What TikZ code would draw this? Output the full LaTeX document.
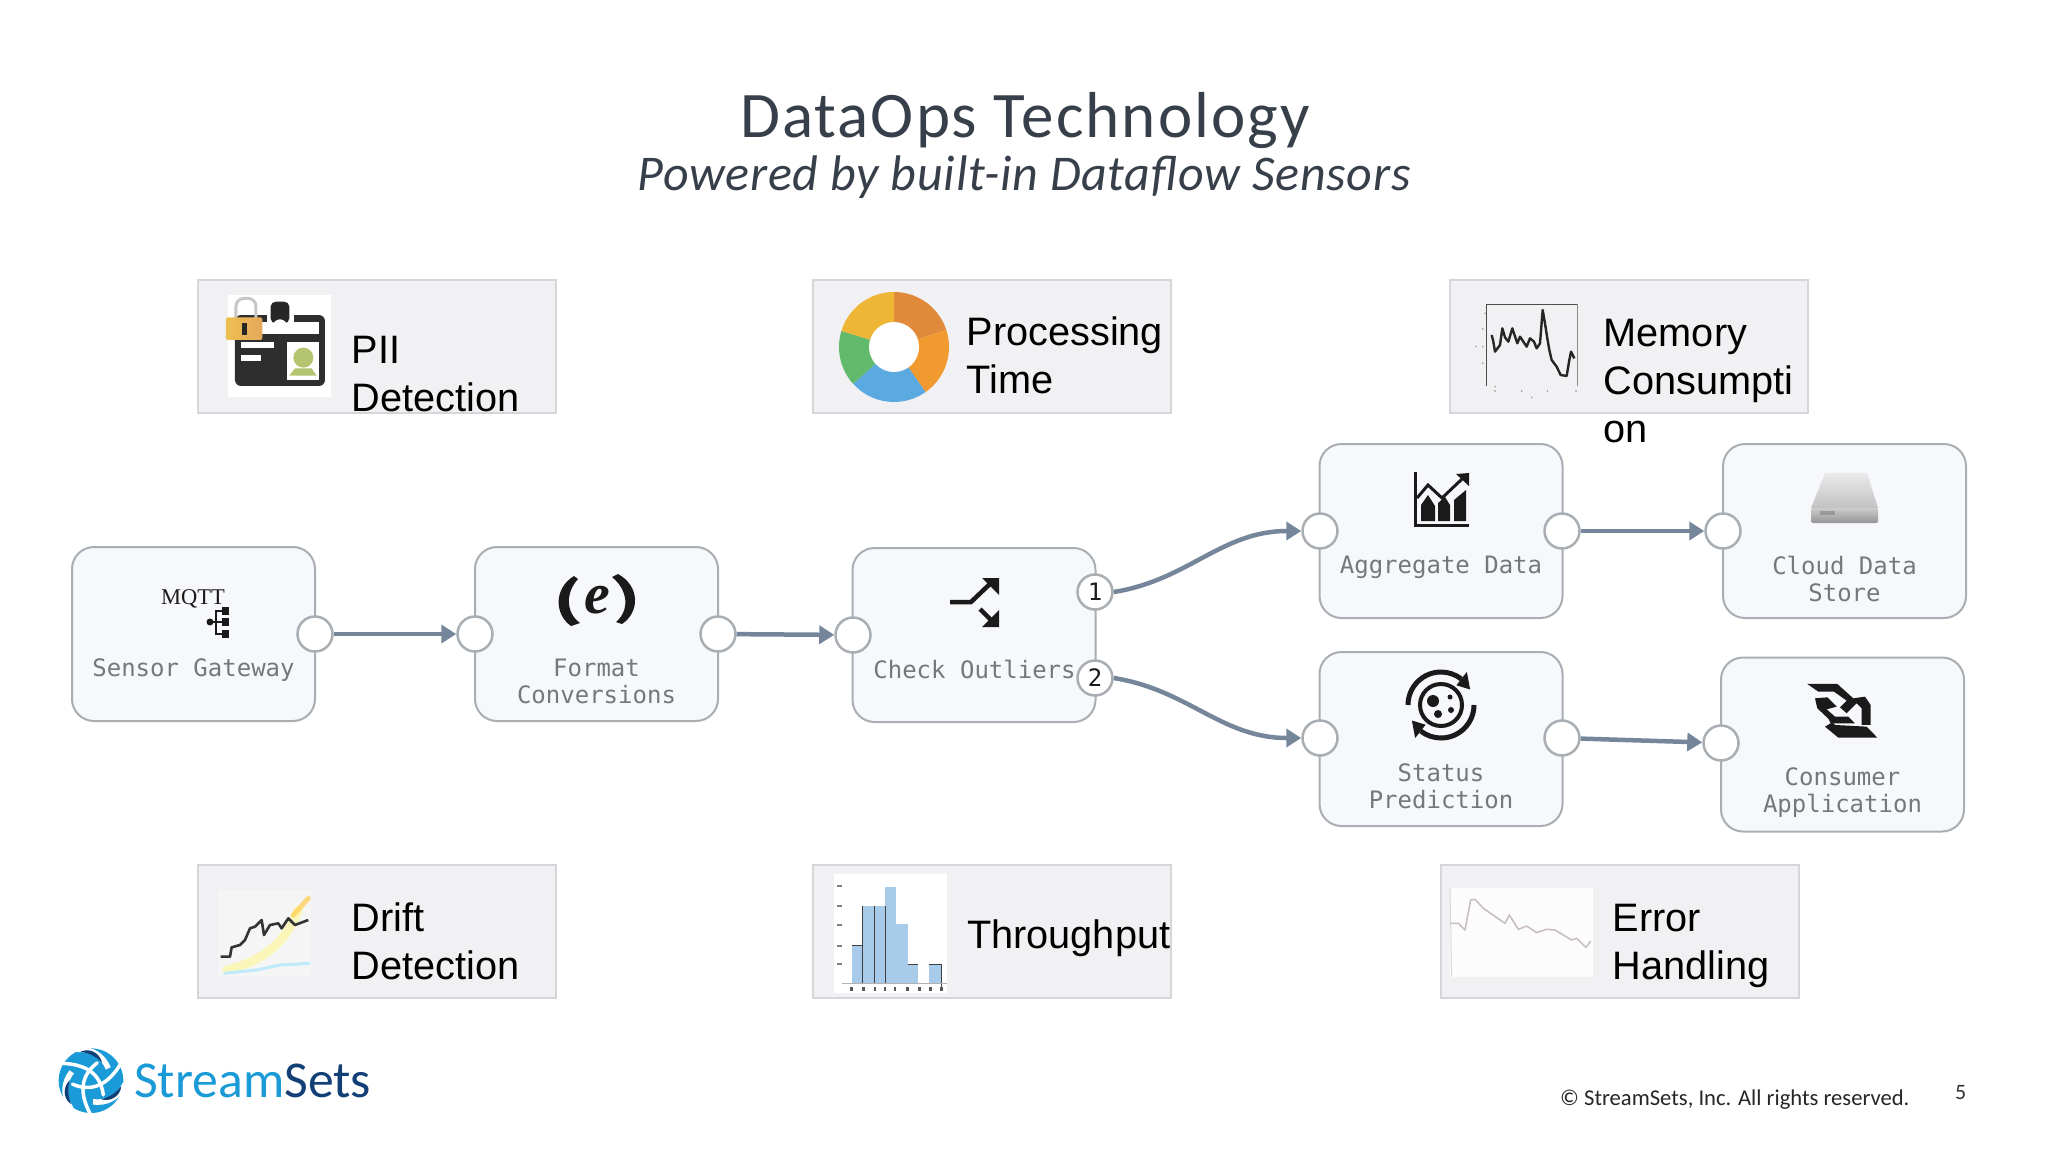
\documentclass[tikz,border=0pt]{standalone}
\usepackage{fontspec}
\setmainfont{Carlito}
\newfontfamily\titlef[LetterSpace=3.1]{Carlito}
\newfontfamily\subtitlef[LetterSpace=1.45,ItalicFont={Carlito Italic}]{Carlito}
\newfontfamily\arialf{Liberation Sans}
\newfontfamily\monof{DejaVu Sans Mono}
\newfontfamily\timesf{Liberation Serif}
\usetikzlibrary{arrows.meta,calc}
\definecolor{titlec}{HTML}{37404A}
\definecolor{cardfill}{HTML}{F1F1F4}
\definecolor{cardline}{HTML}{D5D6D9}
\definecolor{boxfill}{HTML}{F7F8FB}
\definecolor{boxline}{HTML}{A9AEB3}
\definecolor{labelc}{HTML}{74787D}
\definecolor{linkc}{HTML}{76869A}
\definecolor{iconc}{HTML}{1A1A1A}
\definecolor{ssblue}{HTML}{1A9AD6}
\definecolor{ssdark}{HTML}{123F75}
\definecolor{histc}{HTML}{A8CBEA}
\definecolor{pgreen}{HTML}{B5C46F}
\definecolor{d1}{HTML}{E08A3C}
\definecolor{d2}{HTML}{F09A30}
\definecolor{d3}{HTML}{5AA9E0}
\definecolor{d4}{HTML}{63B96B}
\definecolor{d5}{HTML}{EDB636}
\definecolor{gold1}{HTML}{EDC050}
\definecolor{gold2}{HTML}{E6A85C}
\definecolor{errc}{HTML}{C9BFC2}
\tikzset{
  card/.style={draw=cardline,fill=cardfill,line width=2pt,minimum width=358pt,minimum height=133pt,inner sep=0pt},
  cardtext/.style={font=\arialf\fontsize{39.7}{48}\selectfont,text=black,align=left,anchor=base west,inner sep=0pt},
  flowbox/.style={draw=boxline,fill=boxfill,line width=2pt,rounded corners=22pt,minimum width=243pt,minimum height=174pt,inner sep=0pt},
  flowlabel/.style={font=\monof\fontsize{24}{27}\selectfont,text=labelc,align=center,inner sep=0pt},
  port/.style={circle,draw=boxline,fill=white,line width=2.5pt,minimum size=35pt,inner sep=0pt,font=\monof\fontsize{24}{24}\selectfont,text=iconc},
  link/.style={draw=linkc,line width=4.5pt,-{Triangle[length=15pt,width=18pt]}},
  zoomed/.style={x=0.3333pt,y=-0.3333pt}
}
\begin{document}
\begin{tikzpicture}[x=1pt,y=-1pt]
\useasboundingbox (0,0) rectangle (2048,1152);
\fill[white] (0,0) rectangle (2048,1152);

% title
\node[font=\titlef\fontsize{65}{65}\selectfont,text=titlec,anchor=base,inner sep=0pt] (title) at (1025,137) {DataOps Technology};
\node[font=\subtitlef\itshape\fontsize{50}{50}\selectfont,text=titlec,anchor=base,inner sep=0pt] (subtitle) at (1024,190) {Powered by built-in Dataflow Sensors};

% cards
\node[card] (c1) at (376.5,346) {};
\node[card] (c2) at (992,346) {};
\node[card] (c3) at (1628.5,346) {};
\node[card] (c4) at (376.5,931.5) {};
\node[card] (c5) at (992,931.5) {};
\node[card] (c6) at (1620,931.5) {};

% PII icon
\begin{scope}[shift={(180,260)},zoomed]
  \fill[white] (145,105) rectangle (452,412);
  \fill[rounded corners=6pt,black!82] (165,165) rectangle (435,378);
  \fill[white] (190,185) rectangle (417,222);
  \fill[black!82] (190,165) rectangle (262,185);
  \fill[white] (184,245) rectangle (282,264);
  \fill[white] (184,284) rectangle (242,302);
  \fill[white] (322,245) rectangle (417,360);
  \fill[white] (262,160) rectangle (342,222);
  \fill[black!85,rounded corners=5pt] (272,125) rectangle (328,190);
  \fill[white] (300,200) circle (22);
  \fill[pgreen] (370,293) circle (30);
  \fill[pgreen] (328,347) -- (345,325) -- (395,325) -- (410,347) -- cycle;
  \draw[black!22,line width=3pt,rounded corners=8pt] (168,175) -- (168,115) -- (228,115) -- (228,175);
  \shade[left color=gold1,right color=gold2,rounded corners=2pt] (138,172) rectangle (247,240);
  \fill[black!85] (187,190) rectangle (201,225);
\end{scope}
\node[cardtext] (t1) at (351.5,411) {PII\\Detection};

% donut
\begin{scope}[shift={(894,347)},x=1pt,y=1pt]
  \fill[d1] (0,0) -- (90:55) arc (90:18:55) -- cycle;
  \fill[d2] (0,0) -- (18:55) arc (18:-55:55) -- cycle;
  \fill[d3] (0,0) -- (-55:55) arc (-55:-138:55) -- cycle;
  \fill[d4] (0,0) -- (-138:55) arc (-138:-197:55) -- cycle;
  \fill[d5] (0,0) -- (163:55) arc (163:90:55) -- cycle;
  \fill[white] (0,0) circle (25);
\end{scope}
\node[cardtext] (t2) at (966.5,393) {Processing\\Time};

% memory chart
\begin{scope}[shift={(1440,260)},zoomed]
  \draw[black!70,line width=1.5pt] (140,378) -- (140,133) -- (412,133);
  \draw[black!45,line width=1pt] (412,133) -- (412,378);
  \draw[black!85,line width=2.4pt,line join=round]
   (155,225) -- (160,245) -- (165,275) -- (180,255) -- (187,205) -- (195,232) -- (205,245) -- (217,205) -- (232,250) -- (240,230) -- (260,260) -- (270,235) -- (282,245) -- (290,265) -- (300,250) -- (308,150) -- (315,190) -- (322,235) -- (328,270) -- (335,300) -- (350,320) -- (362,345) -- (380,348) -- (388,300) -- (393,275) -- (403,295);
  \foreach \x/\y in {135/160,128/207,128/260,128/310,108/260,165/380,245/393,322/393,408/393,275/412,165/393}
    \fill[black!45] (\x,\y) circle (2.5);
\end{scope}
\node[cardtext] (t3) at (1603.5,442) {Memory\\Consumpti\\on};

% drift chart
\begin{scope}[shift={(180,860)},zoomed]
  \fill[black!4] (115,90) rectangle (392,348);
  \draw[yellow!50!white,line width=9pt,line cap=round,opacity=.5] (140,330) .. controls (260,300) and (320,240) .. (355,150);
  \draw[orange!55!yellow!70!white,line width=5pt,line cap=round,opacity=.7] (340,165) -- (385,115);
  \draw[cyan!25!white,line width=3pt] (130,340) -- (230,330) -- (300,315) -- (390,310);
  \draw[black!80,line width=2.6pt,line join=round] (122,290) -- (150,290) -- (155,262) -- (180,255) -- (195,240) -- (210,205) -- (225,200) -- (245,180) -- (252,225) -- (270,195) -- (295,190) -- (305,205) -- (325,175) -- (345,195) -- (385,180);
\end{scope}
\node[cardtext] (t4) at (351.5,979.5) {Drift\\Detection};

% histogram
\begin{scope}[shift={(800,860)},zoomed]
  \fill[white] (103,42) rectangle (440,398);
  \foreach \a/\b/\t in {155/188/255,188/222/138,222/255/138,255/288/80,288/323/192,323/355/312,388/425/312}
    \fill[histc] (\a,370) rectangle (\b,\t);
  \draw[black!75,line width=1pt] (155,255) -- (188,255) (188,138) -- (188,370) (222,138) -- (222,370) (255,138) -- (255,370) (323,312) -- (355,312) (388,312) -- (425,312) -- (425,380);
  \draw[black!30,line width=1pt] (125,370) -- (440,370);
  \foreach \x in {155,190,225,255,285,323,358,392,425} \fill[black!65] (\x-4,382) rectangle (\x+4,392);
  \foreach \y in {78,138,195,257,313} \fill[black!50] (110,\y-3) rectangle (126,\y+3);
\end{scope}
\node[cardtext] (t5) at (967,948) {Throughput};

% error chart
\begin{scope}[shift={(1430,860)},zoomed]
  \fill[white!80!cardfill] (60,85) rectangle (490,350);
  \draw[black!15,line width=1pt] (60,85) -- (65,350);
  \draw[errc,line width=1.6pt,line join=round] (60,190) -- (85,190) -- (105,210) -- (122,120) -- (135,118) -- (160,145) -- (225,190) -- (238,165) -- (265,208) -- (290,198) -- (320,218) -- (350,208) -- (375,210) -- (425,240) -- (440,235) -- (468,262) -- (482,243);
\end{scope}
\node[cardtext] (t6) at (1612.5,979.5) {Error\\Handling};

% flow boxes
\node[flowbox] (sg) at (193.5,634) {};
\node[flowbox] (fc) at (596.5,634) {};
\node[flowbox] (co) at (974,635) {};
\node[flowbox] (ag) at (1441,531) {};
\node[flowbox] (sp) at (1441,739) {};
\node[flowbox] (cd) at (1844.5,531) {};
\node[flowbox] (ca) at (1842.5,744.5) {};

% labels
\node[flowlabel] (l1) at (193.5,670) {Sensor Gateway};
\node[flowlabel] (l2) at (596.5,681.5) {Format\\Conversions};
\node[flowlabel] (l3) at (974.5,669) {Check Outliers};
\node[flowlabel] (l4) at (1441,567) {Aggregate Data};
\node[flowlabel] (l5) at (1441,786.5) {Status\\Prediction};
\node[flowlabel] (l6) at (1844.5,579) {Cloud Data\\Store};
\node[flowlabel] (l7) at (1842.5,792.5) {Consumer\\Application};

% ports
\node[port] (sgo) at (315,634) {};
\node[port] (fci) at (475,634) {};
\node[port] (fco) at (718,634) {};
\node[port] (coi) at (853,635) {};
\node[port] (co1) at (1095,592) {1};
\node[port] (co2) at (1095,678) {2};
\node[port] (agi) at (1320,531) {};
\node[port] (ago) at (1562,531) {};
\node[port] (spi) at (1320,738) {};
\node[port] (spo) at (1562,738) {};
\node[port] (cdi) at (1723,531) {};
\node[port] (cai) at (1721,743) {};

% connectors
\draw[link] (sgo) -- (fci);
\draw[link] (fco) -- (coi);
\draw[link] (co1.east) .. controls +(75,-12) and +(-80,0) .. (agi.west);
\draw[link] (co2.east) .. controls +(75,12) and +(-80,0) .. (spi.west);
\draw[link] (ago) -- (cdi);
\draw[link] (spo) -- (cai);

% MQTT icon
\node[font=\timesf\fontsize{22.5}{22.5}\selectfont,text=iconc,inner sep=0pt] (mqtt) at (193,599) {MQTT};
\draw[iconc,line width=1.5pt] (210,622) -- (218,622) (225,611) -- (216,611) -- (216,634) -- (225,634) (218,622) -- (225,622);
\fill[iconc] (210,622) circle (3.5);
\foreach \y in {611,622,634} \fill[iconc] (222,\y-4) rectangle (229,\y+4);

% (e) icon
\node[font=\timesf\bfseries\itshape\fontsize{58}{58}\selectfont,text=iconc,inner sep=0pt] (eicon) at (597,600) {e};
\fill[iconc] (574,576) .. controls (554,588) and (554,614) .. (571,626) -- (580,623) .. controls (565,612) and (566,592) .. (578,579) -- cycle;
\fill[iconc] (618,574) .. controls (640,586) and (640,612) .. (622,624) -- (616,622) .. controls (630,610) and (628,590) .. (612,577) -- cycle;

% check outliers icon
\draw[iconc,line width=4.5pt] (950,602) -- (971,602) -- (992,582);
\fill[iconc] (982,578) -- (999,578) -- (999,595) -- cycle;
\draw[iconc,line width=4.5pt] (980,609) -- (993,622);
\fill[iconc] (982,627) -- (999,627) -- (999,610) -- cycle;

% aggregate icon
\draw[iconc,line width=3pt] (1415,472) -- (1415,525) -- (1469,525);
\fill[iconc] (1421,505) -- (1428,495) -- (1435,506) -- (1435,521) -- (1421,521) -- cycle;
\fill[iconc] (1438,503) -- (1445,497) -- (1450,505) -- (1450,521) -- (1438,521) -- cycle;
\fill[iconc] (1454,500) -- (1466,490) -- (1466,521) -- (1454,521) -- cycle;
\draw[iconc,line width=3pt] (1417,498) -- (1428,485) -- (1442,498) -- (1462,479);
\fill[iconc] (1456,474) -- (1469,473) -- (1469,486) -- cycle;

% status icon
\begin{scope}[shift={(1441,705)},x=1pt,y=1pt]
  \draw[iconc,line width=5pt] (180:33) arc (180:52:33);
  \draw[iconc,line width=5pt] (0:33) arc (360:232:33);
  \fill[iconc] (52:25) -- (52:42) -- (28:33) -- cycle;
  \fill[iconc] (232:25) -- (232:42) -- (208:33) -- cycle;
  \draw[iconc,line width=4pt] (0,0) circle (21);
  \fill[iconc] (-8,4) circle (6);
  \fill[iconc] (-3,-9) circle (4);
  \fill[iconc] (10,-5) circle (3);
  \fill[iconc] (9,8) circle (2.5);
\end{scope}

% cloud store icon
\shade[top color=black!8,bottom color=black!24] (1825,473) -- (1867,473) -- (1878,508) -- (1811,508) -- cycle;
\shade[top color=black!20,bottom color=black!42,rounded corners=2pt] (1811,508) rectangle (1878,523);
\fill[black!40] (1820,511) rectangle (1835,515);

% consumer icon
\begin{scope}[shift={(1560,430)},zoomed]
  \fill[iconc] (742,762) -- (832,762) -- (880,805) -- (915,800) -- (932,825) -- (932,885) -- (905,885) -- (905,835) -- (890,820) -- (860,850) -- (840,832) -- (860,812) -- (822,785) -- (775,785) -- cycle;
  \fill[iconc] (765,805) -- (802,802) -- (830,830) -- (800,838) -- (825,860) -- (865,860) -- (885,880) -- (820,880) -- (772,835) -- cycle;
  \fill[iconc] (805,865) -- (825,885) -- (920,890) -- (952,923) -- (835,923) -- (795,890) -- (812,880) -- cycle;
\end{scope}

% logo
\begin{scope}[shift={(40,1040)},zoomed]
  \fill[ssblue] (153,122) circle (97);
  \foreach \r in {0,120,240}{
    \begin{scope}[rotate around={\r:(153,122)}]
      \draw[white,line width=3.5pt,line cap=round] (66,70) .. controls (115,72) and (180,85) .. (190,165);
      \draw[white,line width=5.5pt] (110,28) .. controls (160,25) and (190,50) .. (205,85);
      \fill[ssdark] (122,35) .. controls (150,22) and (180,40) .. (186,68) .. controls (170,50) and (150,40) .. (122,35) -- cycle;
    \end{scope}
  }
\end{scope}
\node[font=\fontsize{51.7}{51.7}\selectfont,anchor=base west,inner sep=0pt] (logo) at (134,1097) {\textcolor{ssblue}{Stream}\textcolor{ssdark}{Sets}};

% footer
\node[font=\fontsize{22.6}{22.6}\selectfont,text=black!85,anchor=base west,inner sep=0pt] (copy) at (1560,1105) {© StreamSets, Inc. All rights reserved.};
\node[font=\fontsize{22}{22}\selectfont,text=black!80,anchor=base west,inner sep=0pt] (page) at (1955,1099) {5};
\end{tikzpicture}
\end{document}
